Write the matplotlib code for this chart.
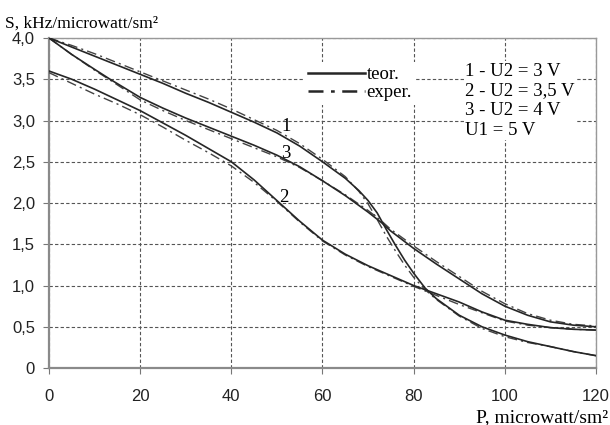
import numpy as np
import matplotlib
matplotlib.use('Agg')
import matplotlib.pyplot as plt
from matplotlib.lines import Line2D
from matplotlib.ticker import FixedLocator, FuncFormatter

# curve 1 - U2 = 3 V
x1 = [0, 5, 10, 15, 20, 25, 30, 35, 40, 45, 50, 55, 60, 65, 68, 70, 72, 74, 76, 78, 80,
      82.5, 85, 90, 95, 100, 105, 110, 115, 120]
y1_teor = [4.00, 3.89, 3.78, 3.67, 3.56, 3.45, 3.33, 3.22, 3.10, 2.98, 2.85, 2.69, 2.50, 2.30,
           2.15, 2.03, 1.88, 1.68, 1.49, 1.31, 1.15, 0.97, 0.84, 0.64, 0.50, 0.40, 0.32, 0.26,
           0.20, 0.15]
y1_exp = [4.00, 3.91, 3.81, 3.70, 3.59, 3.48, 3.37, 3.26, 3.14, 3.01, 2.88, 2.72, 2.53, 2.32,
          2.14, 1.99, 1.80, 1.60, 1.42, 1.25, 1.10, 0.95, 0.83, 0.63, 0.48, 0.38, 0.31, 0.26,
          0.20, 0.15]

# curve 2 - U2 = 3,5 V
x2 = [0, 5, 10, 15, 20, 25, 30, 35, 40, 45, 50, 55, 60, 65, 70, 75, 80, 85, 90, 95, 100,
      105, 110, 115, 120]
y2_teor = [3.60, 3.50, 3.38, 3.25, 3.12, 2.97, 2.82, 2.66, 2.50, 2.28, 2.03, 1.78, 1.55,
           1.38, 1.24, 1.12, 1.00, 0.90, 0.80, 0.68, 0.58, 0.53, 0.49, 0.47, 0.46]
y2_exp = [3.58, 3.45, 3.32, 3.20, 3.07, 2.92, 2.76, 2.61, 2.45, 2.25, 2.02, 1.77, 1.54,
          1.37, 1.23, 1.11, 0.99, 0.88, 0.77, 0.67, 0.57, 0.52, 0.49, 0.47, 0.46]

# curve 3 - U2 = 4 V
x3 = [0, 5, 10, 13.4, 20, 25, 30, 35, 40, 45, 50, 55, 60, 65, 70, 73, 75, 80, 85, 90, 95,
      100, 105, 110, 115, 120]
y3_teor = [4.00, 3.80, 3.62, 3.50, 3.28, 3.15, 3.03, 2.92, 2.81, 2.70, 2.58, 2.44, 2.27, 2.09,
           1.89, 1.76, 1.66, 1.45, 1.26, 1.08, 0.90, 0.75, 0.64, 0.56, 0.52, 0.50]
y3_exp = [4.00, 3.80, 3.61, 3.49, 3.25, 3.12, 3.00, 2.89, 2.78, 2.67, 2.56, 2.43, 2.27, 2.10,
          1.91, 1.78, 1.68, 1.48, 1.29, 1.11, 0.93, 0.78, 0.66, 0.58, 0.53, 0.51]

curve_labels = ['1', '2', '3']
label_pos = [(52, 2.93), (51.5, 2.07), (52, 2.6)]

x_ticks = [0, 20, 40, 60, 80, 100, 120]
y_ticks = [0, 0.5, 1.0, 1.5, 2.0, 2.5, 3.0, 3.5, 4.0]

info_text = '1 - U2 = 3 V\n2 - U2 = 3,5 V\n3 - U2 = 4 V\nU1 = 5 V'

LINE_COL = '#262626'
SERIF = 'Liberation Serif'


def main():
    plt.rcParams['font.family'] = 'Liberation Sans'
    fig = plt.figure(figsize=(6.1, 4.25), dpi=100)
    ax = fig.add_axes([0.0803, 0.134, 0.8967, 0.7766])

    for xs, yt, ye in [(x1, y1_teor, y1_exp), (x2, y2_teor, y2_exp), (x3, y3_teor, y3_exp)]:
        ax.plot(xs, ye, color='#444444', lw=1.0, ls=(0, (7, 3, 1.5, 3)), zorder=3)
        ax.plot(xs, yt, color=LINE_COL, lw=1.2, zorder=4)

    for lab, (lx, ly) in zip(curve_labels, label_pos):
        ax.text(lx, ly, lab, family=SERIF, fontsize=13.5, ha='center', va='center', zorder=5)

    ax.set_xlim(0, 120)
    ax.set_ylim(0, 4.0)
    ax.xaxis.set_major_locator(FixedLocator(x_ticks))
    ax.yaxis.set_major_locator(FixedLocator(y_ticks))
    ax.yaxis.set_major_formatter(FuncFormatter(
        lambda v, p: '0' if v == 0 else f'{v:.1f}'.replace('.', ',')))
    ax.tick_params(axis='both', length=4, color='#777777', labelsize=12, labelcolor='#222222')
    ax.tick_params(axis='x', pad=11)
    ax.tick_params(axis='y', pad=6)

    ax.grid(True, color='#555555', ls=(0, (3, 2)), lw=0.8)
    ax.set_axisbelow(True)
    for side in ['left', 'bottom']:
        ax.spines[side].set_color('#8a8a8a')
        ax.spines[side].set_linewidth(1.6)
    for side in ['top', 'right']:
        ax.spines[side].set_color('#999999')
        ax.spines[side].set_linewidth(1.0)

    handles = [Line2D([], [], color=LINE_COL, lw=1.8),
               Line2D([], [], color=LINE_COL, lw=1.8, ls=(0, (6, 3, 1.5, 3)))]
    leg = ax.legend(handles, ['teor.', 'exper.'], loc='upper left',
                    bbox_to_anchor=(0.45, 0.955), frameon=True, framealpha=1,
                    facecolor='white', edgecolor='none', fancybox=False,
                    prop={'family': SERIF, 'size': 13.5}, handlelength=3.0,
                    handletextpad=0.1, labelspacing=0.05, borderpad=0.2)
    leg.set_zorder(6)

    ax.text(91.3, 3.70, info_text, family=SERIF, fontsize=13.5, ha='left', va='top',
            linespacing=1.2, zorder=6,
            bbox=dict(facecolor='white', edgecolor='none', pad=1))

    fig.text(0.008, 0.936, 'S, kHz/microwatt/sm²', family=SERIF, fontsize=12.5,
             ha='left', va='baseline')
    fig.text(0.997, 0.006, 'P, microwatt/sm²', family=SERIF, fontsize=14,
             ha='right', va='baseline')

    fig.savefig('out.png', dpi=100, facecolor='white')


if __name__ == '__main__':
    main()
